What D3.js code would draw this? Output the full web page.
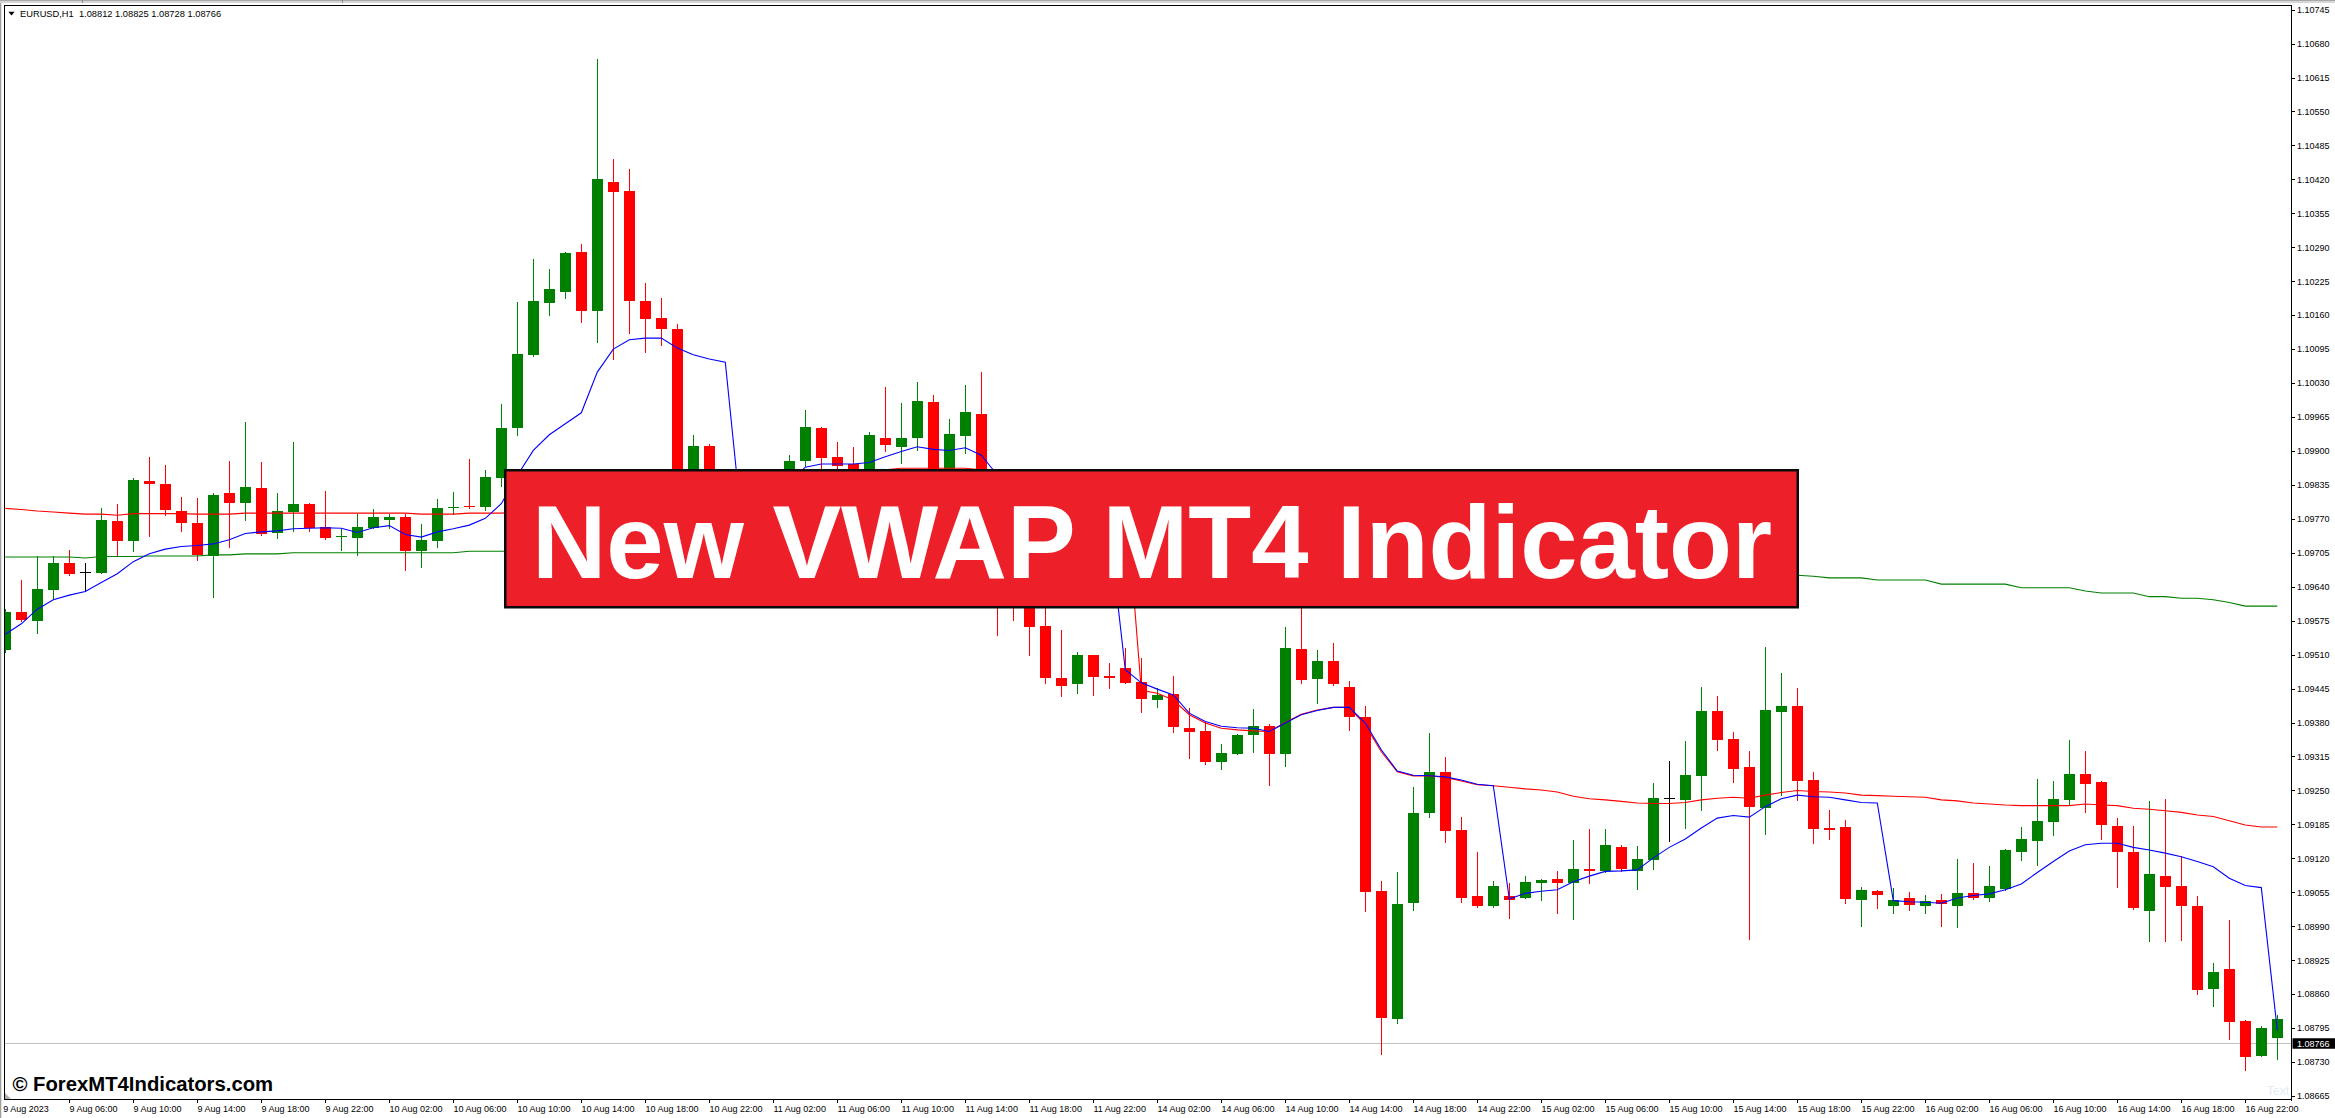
<!DOCTYPE html>
<html><head><meta charset="utf-8">
<script src="https://cdn.jsdelivr.net/npm/d3@7"></script>
<style>html,body{margin:0;padding:0;background:#fff;overflow:hidden}svg{display:block}</style>
</head><body>
<script>
// ---------------- DATA (EURUSD H1, one value per bar) ----------------
const headerText = "EURUSD,H1  1.08812 1.08825 1.08728 1.08766";
const currentPrice = 1.08766;
const bannerText = "New VWAP MT4 Indicator";
const watermarkText = "\u00A9 ForexMT4Indicators.com";

const opens = [1.09518,1.09592,1.09575,1.09634,1.09686,1.09668,1.09667,1.09766,1.09728,1.09843,
 1.09837,1.09785,1.09762,1.09698,1.09820,1.09800,1.09829,1.09742,1.09783,1.09799,
 1.09755,1.09736,1.09734,1.09753,1.09768,1.09773,1.09709,1.09728,1.09790,1.09795,
 1.09793,1.09849,1.09943,1.10084,1.10184,1.10205,1.10281,1.10167,1.10415,1.10398,
 1.10187,1.10155,1.10134,1.09797,1.09910,1.09835,1.09797,1.09758,1.09797,1.09825,
 1.09881,1.09944,1.09889,1.09875,1.09848,1.09925,1.09908,1.09925,1.09994,1.09835,
 1.09929,1.09971,1.09691,1.09619,1.09607,1.09565,1.09465,1.09453,1.09509,1.09470,
 1.09484,1.09458,1.09423,1.09435,1.09370,1.09364,1.09305,1.09320,1.09357,1.09373,
 1.09320,1.09521,1.09464,1.09498,1.09448,1.09391,1.09058,1.08813,1.09035,1.09206,
 1.09286,1.09174,1.09048,1.09029,1.09048,1.09045,1.09072,1.09080,1.09073,1.09100,
 1.09095,1.09142,1.09095,1.09116,1.09235,1.09232,1.09278,1.09402,1.09349,1.09295,
 1.09217,1.09401,1.09412,1.09270,1.09178,1.09180,1.09041,1.09058,1.09028,1.09044,
 1.09029,1.09040,1.09029,1.09054,1.09045,1.09062,1.09133,1.09154,1.09190,1.09232,
 1.09282,1.09266,1.09182,1.09132,1.09020,1.09087,1.09068,1.09029,1.08870,1.08908,
 1.08809,1.08742,1.08777];

const highs = [1.09597,1.09653,1.09699,1.09699,1.09710,1.09686,1.09791,1.09799,1.09848,1.09889,
 1.09873,1.09812,1.09810,1.09820,1.09881,1.09956,1.09879,1.09820,1.09917,1.09801,
 1.09823,1.09751,1.09780,1.09789,1.09780,1.09779,1.09760,1.09808,1.09821,1.09885,
 1.09863,1.09989,1.10186,1.10268,1.10249,1.10280,1.10296,1.10651,1.10459,1.10440,
 1.10222,1.10193,1.10143,1.09931,1.09914,1.09852,1.09816,1.09806,1.09844,1.09892,
 1.09978,1.09945,1.09917,1.09908,1.09936,1.10023,1.09992,1.10032,1.10007,1.09961,
 1.10027,1.10051,1.09710,1.09643,1.09630,1.09615,1.09557,1.09515,1.09510,1.09494,
 1.09522,1.09503,1.09446,1.09469,1.09408,1.09382,1.09339,1.09358,1.09406,1.09377,
 1.09563,1.09611,1.09519,1.09532,1.09460,1.09412,1.09077,1.09094,1.09257,1.09360,
 1.09314,1.09199,1.09132,1.09077,1.09073,1.09086,1.09081,1.09096,1.09155,1.09176,
 1.09176,1.09146,1.09144,1.09264,1.09307,1.09345,1.09448,1.09431,1.09362,1.09326,
 1.09525,1.09475,1.09446,1.09285,1.09213,1.09194,1.09065,1.09059,1.09063,1.09056,
 1.09050,1.09052,1.09119,1.09111,1.09105,1.09137,1.09180,1.09272,1.09268,1.09347,
 1.09326,1.09268,1.09197,1.09182,1.09230,1.09234,1.09125,1.09048,1.08920,1.09002,
 1.08811,1.08799,1.08820];

const lows = [1.09515,1.09574,1.09552,1.09617,1.09663,1.09632,1.09666,1.09700,1.09709,1.09738,
 1.09778,1.09746,1.09692,1.09621,1.09717,1.09768,1.09739,1.09734,1.09747,1.09747,
 1.09732,1.09711,1.09700,1.09752,1.09753,1.09673,1.09678,1.09716,1.09779,1.09791,
 1.09786,1.09832,1.09931,1.10082,1.10160,1.10193,1.10146,1.10108,1.10077,1.10125,
 1.10089,1.10102,1.09749,1.09783,1.09816,1.09777,1.09720,1.09730,1.09783,1.09810,
 1.09871,1.09867,1.09852,1.09825,1.09835,1.09899,1.09876,1.09902,1.09822,1.09816,
 1.09897,1.09663,1.09548,1.09576,1.09509,1.09456,1.09430,1.09436,1.09432,1.09446,
 1.09455,1.09401,1.09409,1.09361,1.09313,1.09301,1.09292,1.09319,1.09324,1.09261,
 1.09296,1.09455,1.09418,1.09451,1.09366,1.09020,1.08746,1.08804,1.09022,1.09200,
 1.09152,1.09037,1.09027,1.09027,1.09005,1.09044,1.09041,1.09016,1.09003,1.09072,
 1.09094,1.09095,1.09062,1.09100,1.09154,1.09178,1.09213,1.09328,1.09266,1.08966,
 1.09167,1.09241,1.09232,1.09150,1.09157,1.09035,1.08991,1.09024,1.09016,1.09022,
 1.09016,1.08991,1.08989,1.09042,1.09038,1.09060,1.09116,1.09108,1.09165,1.09225,
 1.09208,1.09158,1.09066,1.09023,1.08961,1.08962,1.08964,1.08861,1.08838,1.08775,
 1.08715,1.08741,1.08735];

const closes = [1.09592,1.09576,1.09636,1.09686,1.09665,1.09668,1.09768,1.09728,1.09845,1.09837,
 1.09786,1.09763,1.09700,1.09816,1.09800,1.09831,1.09741,1.09785,1.09799,1.09753,
 1.09734,1.09738,1.09755,1.09774,1.09774,1.09709,1.09730,1.09791,1.09793,1.09792,
 1.09851,1.09944,1.10085,1.10187,1.10210,1.10279,1.10167,1.10421,1.10396,1.10188,
 1.10152,1.10134,1.09768,1.09910,1.09835,1.09797,1.09758,1.09797,1.09825,1.09881,
 1.09946,1.09887,1.09872,1.09841,1.09931,1.09912,1.09925,1.09996,1.09835,1.09933,
 1.09975,1.09691,1.09619,1.09607,1.09562,1.09466,1.09450,1.09509,1.09468,1.09466,
 1.09456,1.09425,1.09433,1.09372,1.09361,1.09305,1.09322,1.09356,1.09373,1.09320,
 1.09523,1.09462,1.09498,1.09453,1.09391,1.09056,1.08815,1.09033,1.09207,1.09286,
 1.09173,1.09045,1.09028,1.09067,1.09041,1.09075,1.09079,1.09073,1.09100,1.09096,
 1.09146,1.09100,1.09119,1.09236,1.09235,1.09280,1.09402,1.09347,1.09292,1.09218,
 1.09404,1.09412,1.09269,1.09177,1.09174,1.09043,1.09060,1.09049,1.09040,1.09031,
 1.09038,1.09032,1.09054,1.09045,1.09068,1.09136,1.09157,1.09192,1.09234,1.09282,
 1.09263,1.09183,1.09133,1.09024,1.09090,1.09066,1.09029,1.08867,1.08902,1.08807,
 1.08740,1.08795,1.08812];

// VWAP lines (daily = blue, weekly = red, monthly = green)
const vwapDaily = [1.09549,1.09569,1.09597,1.09615,1.09624,1.09631,1.09648,1.09665,1.09688,1.09703,
 1.09712,1.09717,1.09719,1.09722,1.09730,1.09742,1.09745,1.09747,1.09751,1.09752,
 1.09753,1.09752,1.09744,1.09753,1.09757,1.09740,1.09735,1.09745,1.09751,1.09758,
 1.09771,1.09799,1.09853,1.09901,1.09931,1.09952,1.09973,1.10051,1.10095,1.10113,
 1.10116,1.10116,1.10097,1.10084,1.10076,1.10070,1.09768,1.09783,1.09806,1.09841,
 1.09869,1.09875,1.09875,1.09875,1.09878,1.09889,1.09899,1.09908,1.09903,1.09901,
 1.09906,1.09892,1.09854,1.09831,1.09812,1.09793,1.09779,1.09770,1.09760,1.09751,
 1.09481,1.09456,1.09444,1.09433,1.09398,1.09382,1.09373,1.09370,1.09369,1.09363,
 1.09379,1.09395,1.09403,1.09409,1.09409,1.09379,1.09328,1.09287,1.09279,1.09278,
 1.09276,1.09270,1.09262,1.09259,1.09042,1.09053,1.09057,1.09060,1.09075,1.09086,
 1.09095,1.09096,1.09098,1.09121,1.09141,1.09157,1.09178,1.09197,1.09202,1.09199,
 1.09219,1.09234,1.09241,1.09238,1.09237,1.09232,1.09227,1.09226,1.09039,1.09037,
 1.09036,1.09034,1.09044,1.09049,1.09052,1.09060,1.09071,1.09093,1.09114,1.09134,
 1.09146,1.09149,1.09149,1.09141,1.09136,1.09130,1.09123,1.09114,1.09104,1.09082,
 1.09068,1.09064,1.08791];

const vwapWeekly = [1.09790,1.09788,1.09785,1.09783,1.09781,1.09779,1.09779,1.09777,1.09780,1.09780,
 1.09780,1.09780,1.09779,1.09779,1.09779,1.09781,1.09781,1.09781,1.09781,1.09781,
 1.09781,1.09781,1.09781,1.09781,1.09781,1.09781,1.09779,1.09779,1.09779,1.09781,
 1.09781,1.09781,1.09783,1.09787,1.09793,1.09799,1.09806,1.09818,1.09827,1.09835,
 1.09841,1.09845,1.09847,1.09848,1.09850,1.09852,1.09852,1.09854,1.09856,1.09858,
 1.09860,1.09862,1.09864,1.09864,1.09864,1.09864,1.09867,1.09867,1.09867,1.09867,
 1.09867,1.09864,1.09860,1.09856,1.09850,1.09845,1.09839,1.09835,1.09831,1.09827,
 1.09826,1.09442,1.09436,1.09423,1.09395,1.09379,1.09369,1.09366,1.09364,1.09363,
 1.09380,1.09396,1.09404,1.09409,1.09409,1.09375,1.09324,1.09286,1.09278,1.09278,
 1.09275,1.09268,1.09261,1.09259,1.09256,1.09253,1.09251,1.09247,1.09239,1.09234,
 1.09232,1.09229,1.09226,1.09225,1.09225,1.09227,1.09232,1.09235,1.09237,1.09235,
 1.09241,1.09246,1.09250,1.09248,1.09247,1.09245,1.09241,1.09240,1.09239,1.09238,
 1.09237,1.09232,1.09230,1.09226,1.09224,1.09222,1.09221,1.09221,1.09221,1.09221,
 1.09224,1.09222,1.09221,1.09216,1.09214,1.09211,1.09208,1.09203,1.09200,1.09192,
 1.09184,1.09180,1.09180];

const vwapMonthly = [1.09697,1.09697,1.09697,1.09697,1.09697,1.09695,1.09698,1.09698,1.09698,1.09699,
 1.09699,1.09699,1.09699,1.09701,1.09701,1.09703,1.09703,1.09703,1.09705,1.09705,
 1.09705,1.09705,1.09705,1.09705,1.09705,1.09705,1.09705,1.09705,1.09705,1.09708,
 1.09708,1.09708,1.09709,1.09711,1.09711,1.09711,1.09711,1.09715,1.09715,1.09715,
 1.09715,1.09715,1.09717,1.09717,1.09717,1.09717,1.09717,1.09717,1.09717,1.09717,
 1.09717,1.09719,1.09719,1.09719,1.09719,1.09719,1.09719,1.09719,1.09719,1.09719,
 1.09719,1.09716,1.09716,1.09716,1.09716,1.09716,1.09713,1.09713,1.09713,1.09713,
 1.09709,1.09709,1.09709,1.09709,1.09709,1.09704,1.09704,1.09704,1.09704,1.09704,
 1.09699,1.09699,1.09699,1.09699,1.09699,1.09693,1.09693,1.09693,1.09693,1.09693,
 1.09688,1.09688,1.09688,1.09688,1.09688,1.09683,1.09683,1.09683,1.09683,1.09683,
 1.09678,1.09678,1.09678,1.09678,1.09678,1.09672,1.09672,1.09672,1.09672,1.09672,
 1.09662,1.09662,1.09662,1.09660,1.09657,1.09657,1.09657,1.09653,1.09653,1.09653,
 1.09653,1.09645,1.09645,1.09645,1.09645,1.09645,1.09638,1.09638,1.09638,1.09638,
 1.09632,1.09628,1.09628,1.09628,1.09621,1.09621,1.09618,1.09618,1.09615,1.09610,
 1.09603,1.09603,1.09603];

// time axis labels (one every 4 bars) and price axis ticks
const timeLabels = ["9 Aug 2023","9 Aug 06:00","9 Aug 10:00","9 Aug 14:00","9 Aug 18:00","9 Aug 22:00",
 "10 Aug 02:00","10 Aug 06:00","10 Aug 10:00","10 Aug 14:00","10 Aug 18:00","10 Aug 22:00",
 "11 Aug 02:00","11 Aug 06:00","11 Aug 10:00","11 Aug 14:00","11 Aug 18:00","11 Aug 22:00",
 "14 Aug 02:00","14 Aug 06:00","14 Aug 10:00","14 Aug 14:00","14 Aug 18:00","14 Aug 22:00",
 "15 Aug 02:00","15 Aug 06:00","15 Aug 10:00","15 Aug 14:00","15 Aug 18:00","15 Aug 22:00",
 "16 Aug 02:00","16 Aug 06:00","16 Aug 10:00","16 Aug 14:00","16 Aug 18:00","16 Aug 22:00"];
const priceTicks = ["1.08665","1.08730","1.08795","1.08860","1.08925","1.08990","1.09055","1.09120",
 "1.09185","1.09250","1.09315","1.09380","1.09445","1.09510","1.09575","1.09640","1.09705","1.09770",
 "1.09835","1.09900","1.09965","1.10030","1.10095","1.10160","1.10225","1.10290","1.10355","1.10420",
 "1.10485","1.10550","1.10615","1.10680","1.10745"];

// ---------------- DRAWING ----------------
const W = 2335, H = 1118;
const plot = {left: 4, right: 2291, top: 5, bottom: 1099};
const FONT = "'Liberation Sans', Arial, Helvetica, sans-serif";

const x = d3.scaleLinear().domain([0, opens.length - 1]).range([5.3, 2277.3]);
const y = d3.scaleLinear().domain([+priceTicks[0], +priceTicks[priceTicks.length - 1]]).range([1096, 9.6]);

const svg = d3.select("body").append("svg").attr("width", W).attr("height", H)
  .style("font-family", FONT);

svg.append("rect").attr("width", W).attr("height", H).attr("fill", "#ffffff");

// window chrome
svg.append("rect").attr("x", 0).attr("y", 0).attr("width", W).attr("height", 3).attr("fill", "#d6d6d6");
svg.append("rect").attr("x", 0).attr("y", 0).attr("width", W).attr("height", 1).attr("fill", "#a8a8a8");
[82, 342].forEach(sx => svg.append("rect").attr("x", sx).attr("y", 0).attr("width", 1).attr("height", 3).attr("fill", "#8a8a8a"));
svg.append("rect").attr("x", 0).attr("y", 3).attr("width", 1.3).attr("height", H - 3).attr("fill", "#a0a0a0");

const defs = svg.append("defs");
defs.append("clipPath").attr("id", "plotClip").append("rect")
  .attr("x", plot.left + 1).attr("y", plot.top + 1)
  .attr("width", plot.right - plot.left - 1).attr("height", plot.bottom - plot.top - 1);

const g = svg.append("g").attr("clip-path", "url(#plotClip)");

// current price line
g.append("line").attr("x1", plot.left).attr("x2", plot.right)
  .attr("y1", Math.round(y(currentPrice)) + 0.5).attr("y2", Math.round(y(currentPrice)) + 0.5)
  .attr("stroke", "#c0c0c0").attr("stroke-width", 1).attr("shape-rendering", "crispEdges");

// candles
const bars = opens.map((o, i) => ({i, o, h: highs[i], l: lows[i], c: closes[i]}));
const colorOf = d => d.c > d.o ? "#008000" : (d.c < d.o ? "#ff0000" : "#000000");
const cg = g.append("g").attr("shape-rendering", "crispEdges");
cg.selectAll("rect.wick").data(bars).join("rect").attr("class", "wick")
  .attr("x", d => Math.round(x(d.i)))
  .attr("width", 1)
  .attr("y", d => Math.round(y(d.h)))
  .attr("height", d => Math.max(1, Math.round(y(d.l)) - Math.round(y(d.h)) + 1))
  .attr("fill", colorOf);
cg.selectAll("rect.body").data(bars).join("rect").attr("class", "body")
  .attr("x", d => Math.round(x(d.i)) - 5)
  .attr("width", 11)
  .attr("y", d => Math.round(y(Math.max(d.o, d.c))))
  .attr("height", d => Math.max(1, Math.round(y(Math.min(d.o, d.c))) - Math.round(y(Math.max(d.o, d.c)))))
  .attr("fill", colorOf);

// VWAP lines
const line = d3.line().x((d, i) => x(i)).y(d => y(d));
[[vwapMonthly, "#008000"], [vwapWeekly, "#ff0000"], [vwapDaily, "#0000ff"]].forEach(([arr, col]) => {
  g.append("path").attr("d", line(arr)).attr("fill", "none").attr("stroke", col).attr("stroke-width", 1.1);
});

// faint object label
svg.append("text").attr("x", 2267).attr("y", 1095).attr("font-size", 12).attr("fill", "#e3ebf6").text("Text");

// frame
const frame = svg.append("g").attr("shape-rendering", "crispEdges").attr("fill", "#000");
frame.append("rect").attr("x", plot.left).attr("y", plot.top - 0.5).attr("width", plot.right - plot.left + 1).attr("height", 1);
frame.append("rect").attr("x", plot.left).attr("y", plot.top - 0.5).attr("width", 1).attr("height", plot.bottom - plot.top + 1);
frame.append("rect").attr("x", plot.left).attr("y", plot.bottom).attr("width", plot.right - plot.left + 1).attr("height", 1);
frame.append("rect").attr("x", plot.right).attr("y", plot.top - 0.5).attr("width", 1).attr("height", plot.bottom - plot.top + 2);

// small shift marker bottom-left
svg.append("path").attr("d", `M${plot.left + 1},1093 L${plot.left + 1},1099 L${plot.left + 7},1099 Z`).attr("fill", "#b0b0b0");

// price axis
const pa = svg.append("g");
priceTicks.forEach(t => {
  const py = y(+t);
  pa.append("rect").attr("x", plot.right + 1).attr("y", Math.round(py)).attr("width", 3).attr("height", 1)
    .attr("fill", "#000").attr("shape-rendering", "crispEdges");
  pa.append("text").attr("x", 2297).attr("y", py + 3.3).attr("font-size", 9).attr("fill", "#000").text(t);
});
// current price box
const cy = y(currentPrice);
svg.append("rect").attr("x", plot.right + 1.5).attr("y", cy - 5).attr("width", W - plot.right - 1.5).attr("height", 10.5).attr("fill", "#000");
svg.append("text").attr("x", 2297).attr("y", cy + 3.5).attr("font-size", 9).attr("fill", "#fff").text(currentPrice.toFixed(5));

// time axis
const ta = svg.append("g");
timeLabels.forEach((lab, k) => {
  const bi = k * 4;
  const tx = Math.round(x(bi));
  if (k > 0) ta.append("rect").attr("x", tx).attr("y", plot.bottom + 1).attr("width", 1).attr("height", 3)
    .attr("fill", "#000").attr("shape-rendering", "crispEdges");
  ta.append("text").attr("x", k === 0 ? 3.3 : tx + 0.5).attr("y", 1111.5).attr("font-size", 9).attr("fill", "#000").text(lab);
});

// header
svg.append("path").attr("d", "M8.4,11.7 L14.6,11.7 L11.5,15.4 Z").attr("fill", "#000");
svg.append("text").attr("x", 20).attr("y", 17).attr("font-size", 9.3).attr("fill", "#000")
  .style("white-space", "pre").text(headerText);

// banner
svg.append("rect").attr("x", 505.25).attr("y", 470.25).attr("width", 1292.5).attr("height", 137)
  .attr("fill", "#ed1f28").attr("stroke", "#0a0a0a").attr("stroke-width", 2.5);
svg.append("text").attr("x", 1152).attr("y", 578).attr("text-anchor", "middle")
  .attr("font-size", 103).attr("font-weight", "bold").attr("fill", "#ffffff").text(bannerText);

// watermark
svg.append("text").attr("x", 12.5).attr("y", 1091).attr("font-size", 20.3).attr("font-weight", "bold")
  .attr("fill", "#000").text(watermarkText);
</script>
</body></html>
